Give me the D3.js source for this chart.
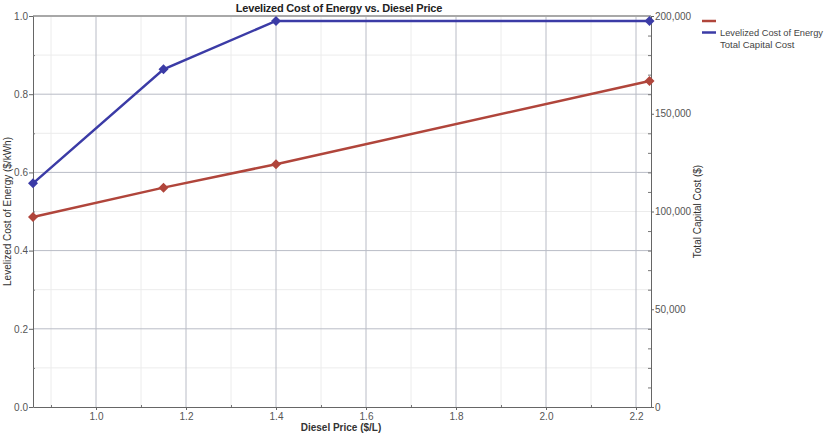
<!DOCTYPE html>
<html>
<head>
<meta charset="utf-8">
<script src="https://cdn.jsdelivr.net/npm/d3@7"></script>
<style>
  html, body { margin: 0; padding: 0; background: #fff; }
  svg { display: block; font-family: "Liberation Sans", Arial, sans-serif; }
</style>
</head>
<body>
<svg id="chart" width="827" height="435"></svg>
<script>
// ---- Data ----
const dieselPrice = [0.86, 1.15, 1.4, 2.23];
const lcoe = [0.486, 0.561, 0.621, 0.834];            // $/kWh (left axis)
const capitalCost = [114400, 172700, 197500, 197500]; // $ (right axis)
const xTicks = [1.0, 1.2, 1.4, 1.6, 1.8, 2.0, 2.2];
const xMinorTicks = [0.9, 1.1, 1.3, 1.5, 1.7, 1.9, 2.1];
const yLeftTicks = [0.0, 0.2, 0.4, 0.6, 0.8, 1.0];
const yLeftMinor = [0.1, 0.3, 0.5, 0.7, 0.9];
const yRightTicks = [0, 50000, 100000, 150000, 200000];
const yRightMinor = [10000,20000,30000,40000,60000,70000,80000,90000,110000,120000,130000,140000,160000,170000,180000,190000];
const legendItems = ["", "Levelized Cost of Energy"];
const legendExtra = "Total Capital Cost";
const titleText = "Levelized Cost of Energy vs. Diesel Price";

// ---- Layout ----
const L = 33, R = 651, T = 16, B = 407;
const red = "#b0453b", blue = "#3b3ba6";
const svg = d3.select("#chart");

const x = d3.scaleLinear().domain([0.86, 2.2333]).range([L, R]);
const yL = d3.scaleLinear().domain([0, 1]).range([B, T]);
const yR = d3.scaleLinear().domain([0, 200000]).range([B, T]);

// minor grid
const g = svg.append("g");
g.selectAll(".mvx").data(xMinorTicks).join("line")
  .attr("x1", d => x(d)).attr("x2", d => x(d)).attr("y1", T).attr("y2", B)
  .attr("stroke", "#ececec").attr("stroke-width", 1);
g.selectAll(".mhy").data(yLeftMinor).join("line")
  .attr("x1", L).attr("x2", R).attr("y1", d => yL(d)).attr("y2", d => yL(d))
  .attr("stroke", "#ececec").attr("stroke-width", 1);
// major grid
g.selectAll(".Mvx").data(xTicks).join("line")
  .attr("x1", d => x(d)).attr("x2", d => x(d)).attr("y1", T).attr("y2", B)
  .attr("stroke", "#b9bcc6").attr("stroke-width", 1);
g.selectAll(".Mhy").data(yLeftTicks.filter(d => d > 0 && d < 1)).join("line")
  .attr("x1", L).attr("x2", R).attr("y1", d => yL(d)).attr("y2", d => yL(d))
  .attr("stroke", "#b9bcc6").attr("stroke-width", 1);
// top border
g.append("line").attr("x1", L).attr("x2", R).attr("y1", T).attr("y2", T)
  .attr("stroke", "#a8a8a8").attr("stroke-width", 2);

// ---- Axes ----
function styleAxis(sel) {
  sel.selectAll("path.domain").attr("stroke", "#666");
  sel.selectAll(".tick line").attr("stroke", "#666");
  sel.selectAll(".tick text").attr("fill", "#555").style("font-size", "10px")
    .style("font-family", "'Liberation Sans', Arial, sans-serif");
}
const axL = svg.append("g").attr("transform", `translate(${L},0)`)
  .call(d3.axisLeft(yL).tickValues(yLeftTicks).tickFormat(d3.format(".1f")).tickSize(4).tickSizeOuter(0).tickPadding(1));
styleAxis(axL);
svg.append("g").attr("transform", `translate(${L},0)`)
  .call(d3.axisRight(yL).tickValues(yLeftMinor).tickSize(2).tickFormat(""))
  .call(s => { s.select(".domain").remove(); s.selectAll("line").attr("stroke", "#777"); });

const axB = svg.append("g").attr("transform", `translate(0,${B})`)
  .call(d3.axisBottom(x).tickValues(xTicks).tickFormat(d3.format(".1f")).tickSize(3).tickSizeOuter(0).tickPadding(3));
styleAxis(axB);
svg.append("g").attr("transform", `translate(0,${B})`)
  .call(d3.axisTop(x).tickValues(xMinorTicks).tickSize(2).tickFormat(""))
  .call(s => { s.select(".domain").remove(); s.selectAll("line").attr("stroke", "#777"); });

const axR = svg.append("g").attr("transform", `translate(${R},0)`)
  .call(d3.axisRight(yR).tickValues(yRightTicks).tickFormat(d3.format(",")).tickSize(3).tickSizeOuter(0).tickPadding(1));
styleAxis(axR);
svg.append("g").attr("transform", `translate(${R},0)`)
  .call(d3.axisLeft(yR).tickValues(yRightMinor).tickSize(3).tickFormat(""))
  .call(s => { s.select(".domain").remove(); s.selectAll("line").attr("stroke", "#777"); });

// ---- Series ----
const diamond = d3.symbol().type(d3.symbolSquare).size(50);
const redLine = d3.line().x((d, i) => x(dieselPrice[i])).y(d => yL(d));
svg.append("path").datum(lcoe).attr("d", redLine).attr("fill", "none")
  .attr("stroke", red).attr("stroke-width", 2.5);
svg.selectAll(".rm").data(lcoe).join("path")
  .attr("transform", (d, i) => `translate(${x(dieselPrice[i])},${yL(d)}) rotate(45)`)
  .attr("d", diamond).attr("fill", red);

const blueLine = d3.line().x((d, i) => x(dieselPrice[i])).y(d => yR(d));
svg.append("path").datum(capitalCost).attr("d", blueLine).attr("fill", "none")
  .attr("stroke", blue).attr("stroke-width", 2.5);
svg.selectAll(".bm").data(capitalCost).join("path")
  .attr("transform", (d, i) => `translate(${x(dieselPrice[i])},${yR(d)}) rotate(45)`)
  .attr("d", diamond).attr("fill", blue);

// ---- Titles ----
svg.append("text").attr("x", 339).attr("y", 12).attr("text-anchor", "middle")
  .style("font-size", "11px").attr("fill", "#222").style("font-weight", "bold")
  .style("letter-spacing", "-0.2px").text(titleText);
svg.append("text").attr("x", 341).attr("y", 431).attr("text-anchor", "middle")
  .style("font-size", "10px").attr("fill", "#333").style("font-weight", "bold")
  .text("Diesel Price ($/L)");
svg.append("text").attr("transform", `translate(11,${(T + B) / 2}) rotate(-90)`)
  .attr("text-anchor", "middle").style("font-size", "10px").attr("fill", "#333")
  .text("Levelized Cost of Energy ($/kWh)");
svg.append("text").attr("transform", `translate(701,${(T + B) / 2}) rotate(-90)`)
  .attr("text-anchor", "middle").style("font-size", "10px").attr("fill", "#333")
  .text("Total Capital Cost ($)");

// ---- Legend ----
const lg = svg.append("g");
const legColors = [red, blue];
legendItems.forEach((name, i) => {
  const yy = 21 + i * 11.5;
  lg.append("line").attr("x1", 702).attr("x2", 716).attr("y1", yy).attr("y2", yy)
    .attr("stroke", legColors[i]).attr("stroke-width", 2.5);
  if (name) {
    lg.append("text").attr("x", 720).attr("y", yy + 3.5).style("font-size", "9.5px")
      .attr("fill", "#444").attr("textLength", 103).attr("lengthAdjust", "spacingAndGlyphs")
      .text(name);
  }
});
lg.append("text").attr("x", 720).attr("y", 48).style("font-size", "9.5px")
  .attr("fill", "#444").text(legendExtra);
</script>
</body>
</html>
